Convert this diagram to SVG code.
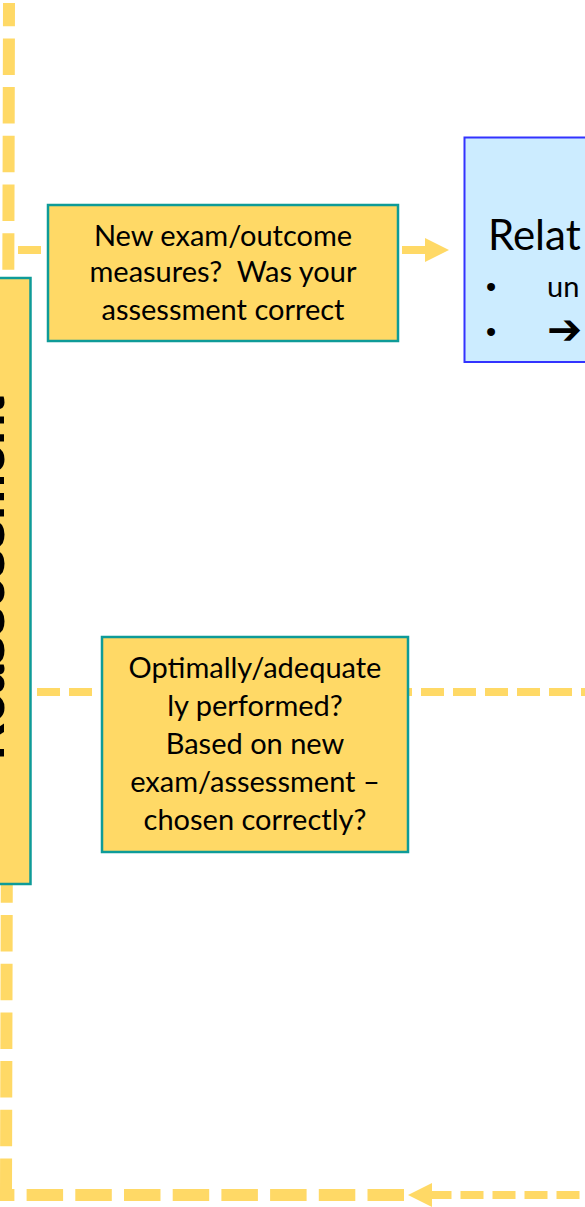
<svg xmlns="http://www.w3.org/2000/svg" width="585" height="1207" viewBox="0 0 585 1207">
<style>
.box{fill:#FFD966;stroke:#0E9B98;stroke-width:2.5}
.blue{fill:#CCECFF;stroke:#3333FF;stroke-width:2}
.t{font-family:Lato,"Liberation Sans",sans-serif;font-size:29px;fill:#000;text-anchor:middle}
.thick{stroke:#FFD966;stroke-width:12;fill:none;stroke-dasharray:36.5 12.2}
.thin{stroke:#FFD966;stroke-width:8;fill:none;stroke-dasharray:23 9}
</style>
<defs>
<marker id="ah" markerUnits="userSpaceOnUse" markerWidth="24" markerHeight="24" refX="0" refY="12" orient="auto-start-reverse" viewBox="0 0 24 24">
<path d="M0 0 L24 12 L0 24 Z" fill="#FFD966"/>
</marker>
</defs>
<rect width="585" height="1207" fill="#FFFFFF"/>
<g id="connectors">
<path class="thick" d="M 6 1195 L 9 3"/>
<path class="thick" d="M 404 1195 H 0"/>
<path class="thin" d="M 432 1195 H 585" stroke-dashoffset="3.5" marker-start="url(#ah)"/>
<path class="thin" d="M 18 250 H 48"/>
<path class="thin" d="M 402 250 H 425" marker-end="url(#ah)"/>
<path class="thin" d="M 5 692 H 585"/>
</g>
<g id="reassessment">
<rect class="box" x="-60" y="278" width="90.5" height="606"/>
<text x="4" y="578" transform="rotate(-90 4 578)" font-family="'Liberation Sans',Arial,sans-serif" font-weight="bold" font-size="52" text-anchor="middle" fill="#000">Reassessment</text>
</g>
<g id="new-exam">
<rect class="box" x="48" y="205" width="350" height="136"/>
<text class="t" x="223" y="246">New exam/outcome</text>
<text class="t" x="223" y="282" xml:space="preserve">measures?  Was your</text>
<text class="t" x="223" y="320">assessment correct</text>
</g>
<g id="optimally">
<rect class="box" x="102" y="637" width="306" height="215"/>
<text class="t" x="255" y="678">Optimally/adequate</text>
<text class="t" x="255" y="716">ly performed?</text>
<text class="t" x="255" y="754">Based on new</text>
<text class="t" x="255" y="792">exam/assessment –</text>
<text class="t" x="255" y="830">chosen correctly?</text>
</g>
<g id="relat">
<rect class="blue" x="464.5" y="137.5" width="150" height="224.5"/>
<text x="488" y="250" font-family="Lato,'Liberation Sans',sans-serif" font-size="42" fill="#000">Relat</text>
<text x="486" y="297" font-family="'Liberation Sans',Arial,sans-serif" font-size="29" fill="#000">•</text>
<text x="547" y="297" font-family="Lato,'Liberation Sans',sans-serif" font-size="29" fill="#000">un</text>
<text x="486" y="342" font-family="'Liberation Sans',Arial,sans-serif" font-size="29" fill="#000">•</text>
<text x="547" y="344" font-family="'DejaVu Sans',sans-serif" font-size="42" font-weight="bold" fill="#000">➔</text>
</g>
</svg>
